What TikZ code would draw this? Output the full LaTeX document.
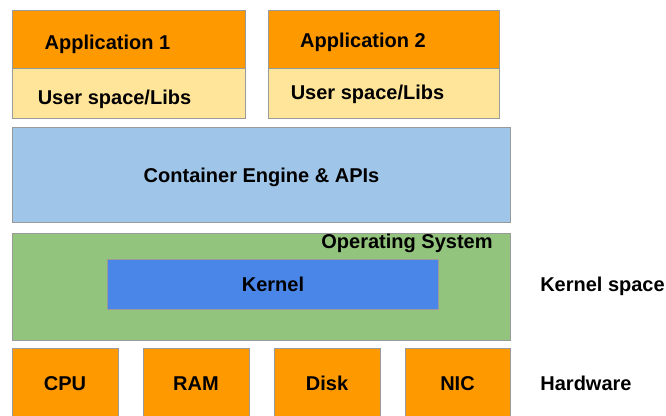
\documentclass[tikz,border=0pt]{standalone}
\usepackage{fontspec}
\setmainfont{Liberation Sans}
\definecolor{gorange}{HTML}{FF9900}
\definecolor{gyellow}{HTML}{FFE599}
\definecolor{gblue}{HTML}{9FC5E8}
\definecolor{ggreen}{HTML}{93C47D}
\definecolor{gkernel}{HTML}{4A86E8}
\definecolor{gborder}{HTML}{9A9A9A}
\newcommand\pxbox[6]{%
  \node[draw=gborder, line width=0.9pt, fill=#6, inner sep=0pt, anchor=north west,
        minimum width={(#4-#2)*0.75pt}, minimum height={(#5-#3)*0.75pt}] (#1) at (#2,#3) {};}
\tikzset{lbl/.style={font=\fontsize{15}{18}\selectfont\bfseries, inner sep=0pt,
  text height=10.7pt, text depth=0pt, text=black}}
\begin{document}
\begin{tikzpicture}[x=0.75pt,y=-0.75pt]
\useasboundingbox (0,0) rectangle (666,415);
% applications
\pxbox{app1}{12}{10}{245}{68}{gorange}
\pxbox{usr1}{12}{68}{245}{118}{gyellow}
\pxbox{app2}{268}{10}{499}{68}{gorange}
\pxbox{usr2}{268}{68}{499}{118}{gyellow}
\node[lbl] (tapp1) at (107.5,42) {Application 1};
\node[lbl] (tusr1) at (114.5,97) {User space/Libs};
\node[lbl] (tapp2) at (363,40) {Application 2};
\node[lbl] (tusr2) at (367.5,92) {User space/Libs};
% container engine
\pxbox{eng}{12}{127}{510}{222}{gblue}
\node[lbl] (teng) at (261.5,175) {Container Engine \& APIs};
% operating system
\pxbox{os}{12}{233}{510}{340}{ggreen}
\node[lbl] (tos) at (407,241) {Operating System};
\pxbox{kern}{107}{259}{438}{309}{gkernel}
\node[lbl] (tkern) at (273,284) {Kernel};
% hardware
\pxbox{cpu}{12}{348}{118}{420}{gorange}
\pxbox{ram}{143}{348}{249}{420}{gorange}
\pxbox{disk}{274}{348}{380}{420}{gorange}
\pxbox{nic}{405}{348}{510}{420}{gorange}
\node[lbl] (tcpu) at (65,383) {CPU};
\node[lbl] (tram) at (196,383) {RAM};
\node[lbl] (tdisk) at (327,383) {Disk};
\node[lbl] (tnic) at (457.5,383) {NIC};
% side labels
\node[lbl] (ksp) at (602.5,284) {Kernel space};
\node[lbl] (hw) at (586,383) {Hardware};
\end{tikzpicture}
\end{document}
